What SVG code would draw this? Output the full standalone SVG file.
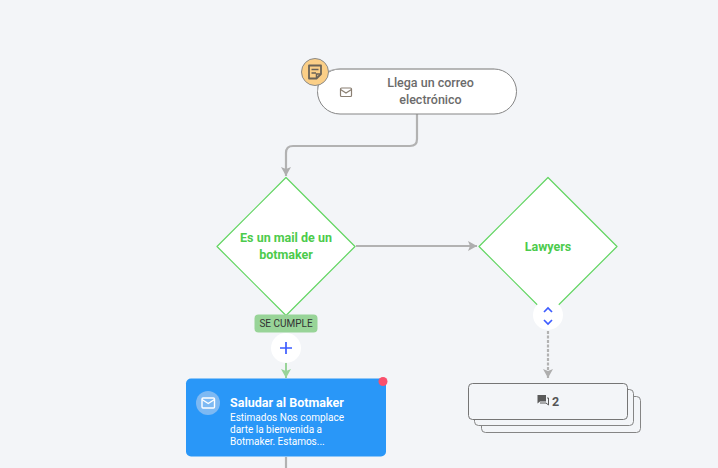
<svg xmlns="http://www.w3.org/2000/svg" width="718" height="468" viewBox="0 0 718 468">
<style>
text{font-family:Roboto,"Liberation Sans",sans-serif}
.c{fill:none;stroke:#b2b2b2;stroke-width:2.200}
.t{font-size:12.500px;font-weight:500;fill:#6b6b6b;text-anchor:middle}
.g{font-size:12.500px;font-weight:700;fill:#4ccb4c;text-anchor:middle}
.d{fill:#fff;stroke:#62d562;stroke-width:1.200;stroke-linejoin:round}
.s{fill:#fff;stroke:#858585;stroke-width:1}
.w{font-size:10px;fill:#fff}
</style>
<defs>
<marker id="a" markerUnits="userSpaceOnUse" markerWidth="10" markerHeight="10" refX="9" refY="5" orient="auto"><path d="M0 0L9 5L0 10L2 5Z" fill="#aeaeae"/></marker>
<marker id="ag" markerUnits="userSpaceOnUse" markerWidth="10" markerHeight="10" refX="9" refY="5" orient="auto"><path d="M0 0L9 5L0 10L2 5Z" fill="#98d498"/></marker>
</defs>
<rect width="718" height="468" fill="#f3f5f8"/>
<g id="connectors">
<path class="c" d="M417 114V139Q417 146 410 146H293Q286 146 286 153V176" marker-end="url(#a)"/>
<path class="c" d="M356 246H477" marker-end="url(#a)"/>
<path class="c" d="M548 331V378" stroke-dasharray="3 1.500" marker-end="url(#a)"/>
<path d="M286 362V378" fill="none" stroke="#98d498" stroke-width="2" marker-end="url(#ag)"/>
<path class="c" d="M286 457V468"/>
</g>
<g id="start">
<rect x="317.500" y="69" width="199" height="45" rx="22.500" class="s"/>
<path d="M317.500 91V90Q318 69.500 340 69H494" fill="none" stroke="#aeaeae" stroke-width="1"/>
<g fill="none" stroke="#8a7f72" stroke-width="1.200"><rect x="340.500" y="88" width="11" height="8.500" rx="1"/><path d="M340.500 89.500L346 93L351.500 89.500"/></g>
<text class="t" x="430.500" y="87">Llega un correo</text>
<text class="t" x="430.500" y="104">electrónico</text>
<circle cx="315" cy="72" r="13.500" fill="#fbcf87" stroke="#8a8a8a" stroke-width="1"/>
<path d="M309 65.500H321V74L316.500 78.500H309Z" fill="none" stroke="#6b6357" stroke-width="1.800" stroke-linejoin="round"/>
<path d="M311.500 69.500H318.500M311.500 73H316M316.500 78V74H320.500" fill="none" stroke="#6b6357" stroke-width="1.500"/>
</g>
<g id="decision1">
<path class="d" d="M286 177.500L355 246.500L286 315.500L217 246.500Z"/>
<text class="g" x="286" y="242">Es un mail de un</text>
<text class="g" x="286" y="259">botmaker</text>
</g>
<g id="decision2">
<path class="d" d="M548 177.500L617 246.500L548 315.500L479 246.500Z"/>
<text class="g" x="548" y="251">Lawyers</text>
</g>
<g id="label-se-cumple">
<rect x="254.500" y="314.500" width="63" height="18" rx="4" fill="#98d498"/>
<text x="286" y="327" font-size="10" fill="#333" text-anchor="middle">SE CUMPLE</text>
</g>
<g id="add">
<circle cx="286" cy="348" r="15" fill="#fff"/>
<path d="M280 348H292M286 342V354" stroke="#3d5cff" stroke-width="1.700" fill="none"/>
</g>
<g id="toggle">
<circle cx="548" cy="315" r="15" fill="#fff"/>
<path d="M544 312L548 308L552 312M544 320L548 324L552 320" stroke="#3d5cff" stroke-width="1.700" fill="none"/>
</g>
<g id="message">
<rect x="186" y="378.500" width="200" height="78" rx="5" fill="#2997f8"/>
<circle cx="383" cy="381.500" r="4.500" fill="#f9506c"/>
<circle cx="208" cy="403" r="12" fill="#7db9f3"/>
<g fill="none" stroke="#fff" stroke-width="1.400"><rect x="202" y="398" width="12.500" height="10" rx="1" fill="none"/><path d="M202 399.500L208.250 403.500L214.500 399.500"/></g>
<text x="230" y="407" font-size="12.500" font-weight="700" fill="#fff">Saludar al Botmaker</text>
<text class="w" x="230" y="421">Estimados Nos complace</text>
<text class="w" x="230" y="433">darte la bienvenida a</text>
<text class="w" x="230" y="445">Botmaker. Estamos...</text>
</g>
<g id="stack">
<rect x="481.500" y="396.500" width="159" height="36" rx="4" fill="#f3f5f8" stroke="#858585"/>
<rect x="474.500" y="389.500" width="159" height="36" rx="4" fill="#f3f5f8" stroke="#858585"/>
<rect x="468.500" y="383.500" width="159" height="36" rx="4" fill="#f3f5f8" stroke="#757575"/>
<path d="M537.500 395H546V401.500H540L537.500 403.500Z" fill="#5a5a5a"/>
<path d="M547 398H548.500V405L546 403H540" fill="none" stroke="#5a5a5a" stroke-width="1"/>
<text x="552" y="405.500" font-size="12.500" font-weight="700" fill="#555">2</text>
</g>
</svg>
